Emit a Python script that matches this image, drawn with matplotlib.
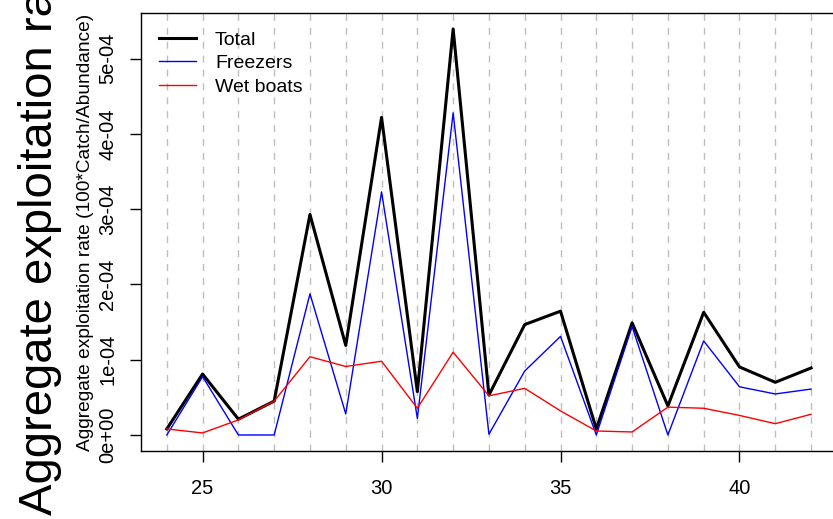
import matplotlib.pyplot as plt
from matplotlib.ticker import FuncFormatter

plt.rcParams['font.family'] = ['Liberation Sans', 'DejaVu Sans']

# exploitation rates by year (x1e-4)
years = list(range(24, 43))
total = [0.08, 0.81, 0.21, 0.45, 2.93, 1.19, 4.22, 0.576, 5.395, 0.53,
         1.467, 1.645, 0.08, 1.49, 0.386, 1.63, 0.904, 0.70, 0.89]
freezers = [0.0, 0.775, 0.0, 0.0, 1.875, 0.28, 3.23, 0.22, 4.28, 0.01,
            0.85, 1.31, 0.0, 1.44, 0.0, 1.25, 0.64, 0.545, 0.61]
wet_boats = [0.08, 0.027, 0.2, 0.45, 1.04, 0.91, 0.98, 0.355, 1.1, 0.52,
             0.62, 0.32, 0.053, 0.04, 0.37, 0.355, 0.26, 0.15, 0.275]
scale = 1e-4
total = [v * scale for v in total]
freezers = [v * scale for v in freezers]
wet_boats = [v * scale for v in wet_boats]

fig = plt.figure(figsize=(8.33, 5.19), dpi=100)
ax = fig.add_axes([0.1693, 0.1306, 0.8353, 0.8449])

for yr in years:
    ax.axvline(yr, color='#BEBEBE', lw=1, linestyle=(0, (5, 5)), zorder=0)

ax.plot(years, total, color='black', lw=2.2, label='Total')
ax.plot(years, freezers, color='blue', lw=1, label='Freezers')
ax.plot(years, wet_boats, color='red', lw=1, label='Wet boats')

# R-style 4% padding
xr = years[-1] - years[0]
ax.set_xlim(years[0] - 0.04 * xr, years[-1] + 0.04 * xr)
ymax = max(total)
ax.set_ylim(-0.04 * ymax, ymax * 1.04)

ax.set_xticks([25, 30, 35, 40])
ax.set_yticks([0, 1e-4, 2e-4, 3e-4, 4e-4, 5e-4])
ax.yaxis.set_major_formatter(FuncFormatter(lambda v, p: format(v, '.0e')))
ax.tick_params(direction='out', length=8, width=1, labelsize=14.5, pad=9)
ax.tick_params(axis='x', pad=12)
for lab in ax.get_yticklabels():
    lab.set_rotation(90)
    lab.set_va('center')
for s in ax.spines.values():
    s.set_linewidth(1)

ax.set_ylabel('Aggregate exploitation rate (100*Catch/Abundance)', fontsize=13.8, labelpad=3)

fig.text(0.022, 0.008, 'Aggregate exploitation rate (100*Catch/Abundance)',
         rotation=90, ha='left', va='bottom', fontsize=34)

ax.legend(loc='upper left', frameon=False, fontsize=14, handlelength=1.9,
          handletextpad=0.95, labelspacing=0.3, borderaxespad=0.55)

fig.savefig('out.png', dpi=100)
